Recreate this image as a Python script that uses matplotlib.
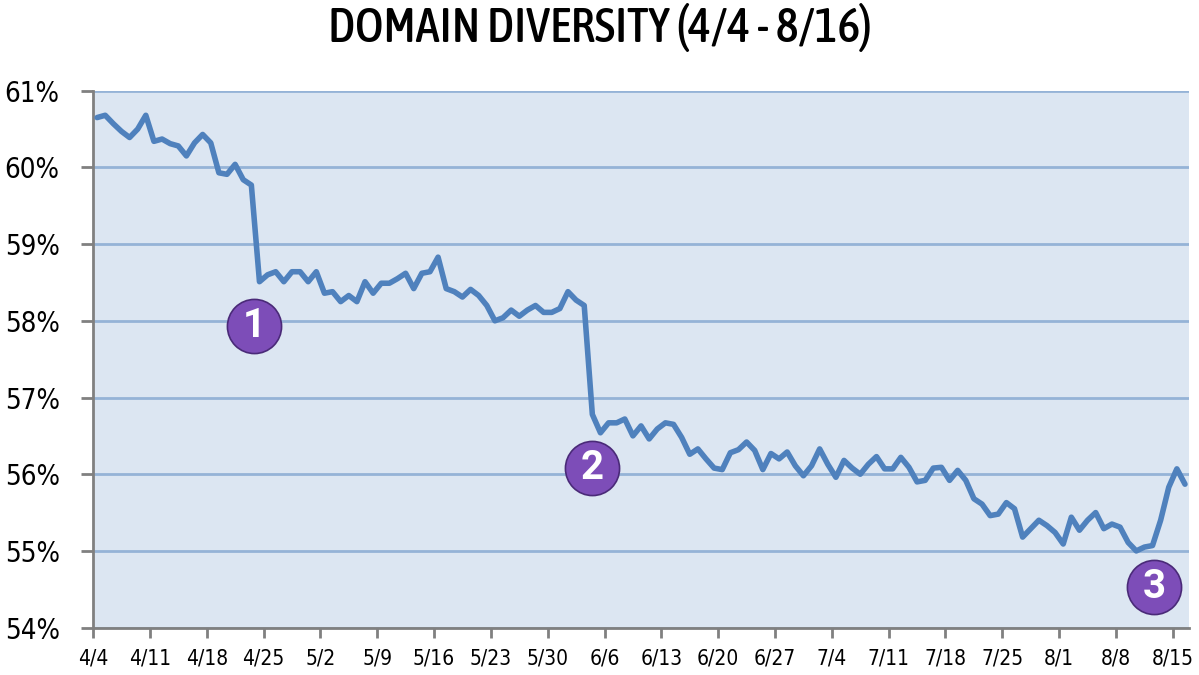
"""
domain_diversity.py

Line chart of daily domain diversity, 4/4 - 8/16,
with three numbered event markers.
"""

import numpy as np
import matplotlib
matplotlib.use("Agg")
import matplotlib.pyplot as plt
from matplotlib import font_manager as fm

# daily share, one value per day starting 4/4
diversity = [
    60.65, 60.68, 60.57, 60.47, 60.39, 60.50, 60.68, 60.34, 60.37, 60.31,
    60.28, 60.15, 60.32, 60.43, 60.32, 59.93, 59.91, 60.04, 59.84, 59.77,
    58.51, 58.60, 58.64, 58.51, 58.64, 58.64, 58.51, 58.64, 58.36, 58.38,
    58.25, 58.33, 58.25, 58.51, 58.36, 58.49, 58.49, 58.55, 58.62, 58.42,
    58.62, 58.64, 58.83, 58.42, 58.38, 58.31, 58.41, 58.33, 58.20, 58.00,
    58.04, 58.14, 58.06, 58.14, 58.20, 58.11, 58.11, 58.16, 58.38, 58.27,
    58.20, 56.78, 56.54, 56.67, 56.67, 56.72, 56.50, 56.63, 56.46, 56.59,
    56.67, 56.65, 56.48, 56.26, 56.33, 56.20, 56.08, 56.06, 56.28, 56.32,
    56.42, 56.31, 56.06, 56.27, 56.20, 56.29, 56.11, 55.98, 56.11, 56.33,
    56.13, 55.96, 56.18, 56.08, 56.00, 56.13, 56.23, 56.07, 56.07, 56.22,
    56.09, 55.90, 55.92, 56.08, 56.09, 55.92, 56.05, 55.92, 55.68, 55.61,
    55.46, 55.48, 55.63, 55.55, 55.18, 55.29, 55.40, 55.33, 55.24, 55.09,
    55.44, 55.27, 55.40, 55.50, 55.29, 55.35, 55.31, 55.11, 55.00, 55.05,
    55.07, 55.40, 55.83, 56.07, 55.87,
]

week_labels = [
    "4/4", "4/11", "4/18", "4/25", "5/2", "5/9", "5/16", "5/23", "5/30",
    "6/6", "6/13", "6/20", "6/27", "7/4", "7/11", "7/18", "7/25", "8/1",
    "8/8", "8/15",
]

y_ticks = [54, 55, 56, 57, 58, 59, 60, 61]

# event markers: (day, value, label)
event_days = [19.8, 61.5, 130.7]
event_values = [57.93, 56.08, 54.53]
event_labels = ["1", "2", "3"]

WEIGHTS = {"ultralight": 200, "light": 300, "normal": 400, "regular": 400,
           "book": 400, "medium": 500, "semibold": 600, "demibold": 600,
           "bold": 700, "heavy": 800, "black": 900}


def find_narrow_font(weight):
    # look for an installed condensed / narrow face close to `weight`
    narrow = ("condensed", "semi-condensed", "extra-condensed",
              "ultra-condensed")
    best = None
    for f in fm.fontManager.ttflist:
        name = f.name.lower()
        is_narrow = (str(f.stretch) in narrow or "narrow" in name
                     or "condensed" in name)
        if not is_narrow or f.style != "normal":
            continue
        w = f.weight if isinstance(f.weight, int) else WEIGHTS.get(f.weight, 400)
        score = abs(w - weight) + (0 if str(f.stretch) == "condensed" else 5)
        if best is None or score < best[0]:
            best = (score, f.fname)
    if best:
        return fm.FontProperties(fname=best[1])
    return fm.FontProperties(family=["Roboto", "DejaVu Sans"])


label_font = find_narrow_font(400)
title_font = find_narrow_font(500)

fig = plt.figure(figsize=(11.99, 6.75), dpi=100)
ax = fig.add_axes([0.0776, 0.0702, 0.9141, 0.7954])

ax.set_facecolor("#DCE6F2")

days = np.arange(len(diversity)) + 0.5
ax.plot(days, diversity, color="#4F81BD", linewidth=4.0,
        solid_joinstyle="round", solid_capstyle="round", zorder=3)

ax.scatter(event_days, event_values, s=1520, color="#7D4DB8",
           edgecolors="#4A2A78", linewidths=1.2, zorder=4)
for x, y, label in zip(event_days, event_values, event_labels):
    ax.text(x, y, label, ha="center", va="center", color="white",
            fontsize=29, fontweight="bold", zorder=5,
            family=["Roboto", "DejaVu Sans"])

ax.set_xlim(0, 135)
ax.set_ylim(54, 61)

ax.set_xticks(np.arange(len(week_labels)) * 7)
ax.set_xticklabels(week_labels, fontproperties=label_font)
ax.set_yticks(y_ticks)
ax.set_yticklabels([f"{v}%" for v in y_ticks], fontproperties=label_font)

ax.yaxis.grid(True, color="#95B3D7", linewidth=2)
ax.set_axisbelow(True)

for side in ["top", "right"]:
    ax.spines[side].set_visible(False)
for side in ["left", "bottom"]:
    ax.spines[side].set_color("#808080")
    ax.spines[side].set_linewidth(2)

ax.tick_params(axis="y", length=9, width=2, color="#808080", pad=15)
ax.tick_params(axis="x", length=7, width=2, color="#808080", pad=8)

title = fig.text(0.5, 0.995, "DOMAIN DIVERSITY (4/4 - 8/16)", ha="center",
                 va="top", fontproperties=title_font)

# size the texts so their widths match the original layout
renderer = fig.canvas.get_renderer()


def fit(texts, sample, target_px, max_size):
    sample.set_fontsize(20)
    width = sample.get_window_extent(renderer).width
    size = min(20 * target_px / width, max_size)
    for t in texts:
        t.set_fontsize(size)


fit([title], title, 542, 38)
ylabels = ax.get_yticklabels()
fit(ylabels, ylabels[-1], 55, 28)
xlabels = ax.get_xticklabels()
fit(xlabels, xlabels[3], 42, 20)

fig.savefig("out.png", dpi=100)
